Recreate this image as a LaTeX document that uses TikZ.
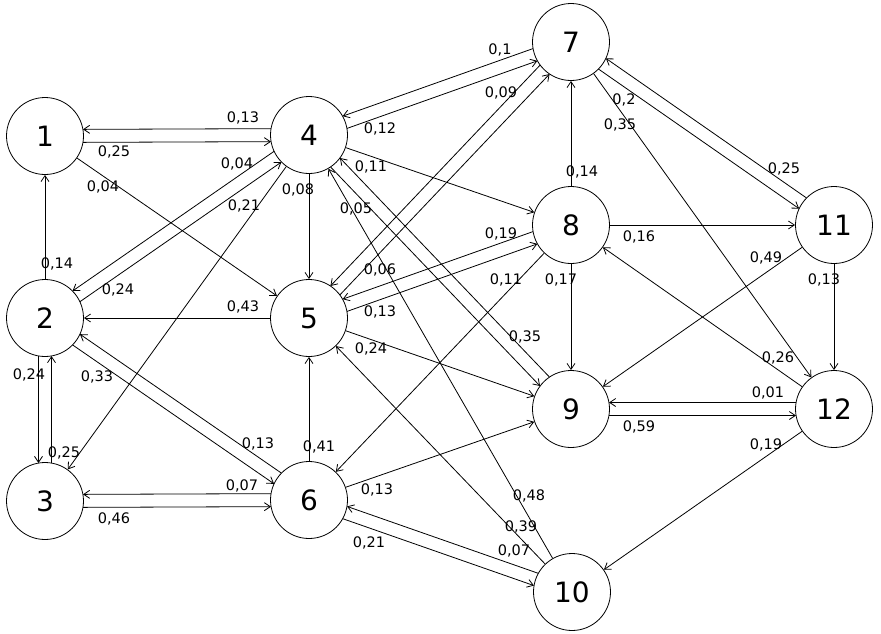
\documentclass[tikz,border=0pt]{standalone}
\usepackage{fontspec}
\setmainfont{DejaVu Sans}
\usetikzlibrary{arrows.meta,calc}
\newcommand\pairedge[2]{\draw[pedge] ($(#1)!6.5pt!-90:(#2)$) -- ($(#2)!6.5pt!90:(#1)$);}
\begin{document}
\begin{tikzpicture}[x=1pt,y=-1pt,
  vert/.style={circle,draw,line width=0.8pt,fill=white,minimum size=77pt,inner sep=0pt,font=\fontsize{28}{30}\selectfont},
  edge/.style={line width=0.8pt,-{Straight Barb[length=6pt,width=8pt,line width=0.8pt]}},
  pedge/.style={edge,shorten <=38pt,shorten >=38pt},
  lab/.style={font=\fontsize{14.5}{16}\selectfont,inner sep=0pt}]
\useasboundingbox (0,0) rectangle (881,633);
\fill[white] (0,0) rectangle (881,633);
% vertices
\node[vert] (n1) at (45,136) {1};
\node[vert] (n2) at (45,318) {2};
\node[vert] (n3) at (45,501) {3};
\node[vert] (n4) at (309,135) {4};
\node[vert] (n5) at (309,318) {5};
\node[vert] (n6) at (309,500) {6};
\node[vert] (n7) at (571,42) {7};
\node[vert] (n8) at (571,225) {8};
\node[vert] (n9) at (571,409) {9};
\node[vert] (n10) at (572,592) {10};
\node[vert] (n11) at (834,225) {11};
\node[vert] (n12) at (834,409) {12};
% paired edges
\pairedge{n1}{n4}
\pairedge{n4}{n1}
\pairedge{n2}{n4}
\pairedge{n4}{n2}
\pairedge{n2}{n3}
\pairedge{n3}{n2}
\pairedge{n2}{n6}
\pairedge{n6}{n2}
\pairedge{n3}{n6}
\pairedge{n6}{n3}
\pairedge{n4}{n7}
\pairedge{n7}{n4}
\pairedge{n4}{n9}
\pairedge{n9}{n4}
\pairedge{n5}{n7}
\pairedge{n7}{n5}
\pairedge{n5}{n8}
\pairedge{n8}{n5}
\pairedge{n6}{n10}
\pairedge{n10}{n6}
\pairedge{n7}{n11}
\pairedge{n11}{n7}
\pairedge{n9}{n12}
\pairedge{n12}{n9}
% single edges
\draw[edge] (n1) -- (n5);
\draw[edge] (n2) -- (n1);
\draw[edge] (n4) -- (n3);
\draw[edge] (n4) -- (n5);
\draw[edge] (n5) -- (n2);
\draw[edge] (n6) -- (n5);
\draw[edge] (n4) -- (n8);
\draw[edge] (n10) -- (n4);
\draw[edge] (n5) -- (n9);
\draw[edge] (n10) -- (n5);
\draw[edge] (n8) -- (n6);
\draw[edge] (n6) -- (n9);
\draw[edge] (n8) -- (n7);
\draw[edge] (n7) -- (n12);
\draw[edge] (n8) -- (n11);
\draw[edge] (n8) -- (n9);
\draw[edge] (n11) -- (n9);
\draw[edge] (n11) -- (n12);
\draw[edge] (n12) -- (n8);
\draw[edge] (n12) -- (n10);
% labels
\node[lab] (l41) at (243,118) {0,13};
\node[lab] (l14) at (114,152) {0,25};
\node[lab] (l15) at (103,187) {0,04};
\node[lab] (l42) at (237,164) {0,04};
\node[lab] (l43) at (244,206) {0,21};
\node[lab] (l45) at (298,190) {0,08};
\node[lab] (l21) at (57,264) {0,14};
\node[lab] (l24) at (118,290) {0,24};
\node[lab] (l52) at (243,307) {0,43};
\node[lab] (l23) at (29,375) {0,24};
\node[lab] (l26) at (97,377) {0,33};
\node[lab] (l32) at (64,453) {0,25};
\node[lab] (l62) at (258,444) {0,13};
\node[lab] (l63) at (242,486) {0,07};
\node[lab] (l36) at (114,519) {0,46};
\node[lab] (l65) at (319,447) {0,41};
\node[lab] (l69) at (377,490) {0,13};
\node[lab] (l610) at (369,543) {0,21};
\node[lab] (l106) at (514,551) {0,07};
\node[lab] (l105) at (521,527) {0,39};
\node[lab] (l104) at (529,496) {0,48};
\node[lab] (l74) at (500,50) {0,1};
\node[lab] (l75) at (501,93) {0,09};
\node[lab] (l47) at (380,129) {0,12};
\node[lab] (l48) at (371,167) {0,11};
\node[lab] (l49) at (356,209) {0,05};
\node[lab] (l57) at (380,270) {0,06};
\node[lab] (l85) at (501,234) {0,19};
\node[lab] (l58) at (380,312) {0,13};
\node[lab] (l59) at (371,349) {0,24};
\node[lab] (l86) at (506,280) {0,11};
\node[lab] (l89) at (561,280) {0,17};
\node[lab] (l94) at (525,337) {0,35};
\node[lab] (l87) at (582,172) {0,14};
\node[lab] (l711) at (624,100) {0,2};
\node[lab] (l712) at (620,125) {0,35};
\node[lab] (l117) at (784,169) {0,25};
\node[lab] (l811) at (639,237) {0,16};
\node[lab] (l119) at (766,258) {0,49};
\node[lab] (l1112) at (824,280) {0,13};
\node[lab] (l128) at (778,358) {0,26};
\node[lab] (l129) at (768,393) {0,01};
\node[lab] (l912) at (639,427) {0,59};
\node[lab] (l1210) at (766,445) {0,19};
\end{tikzpicture}
\end{document}
